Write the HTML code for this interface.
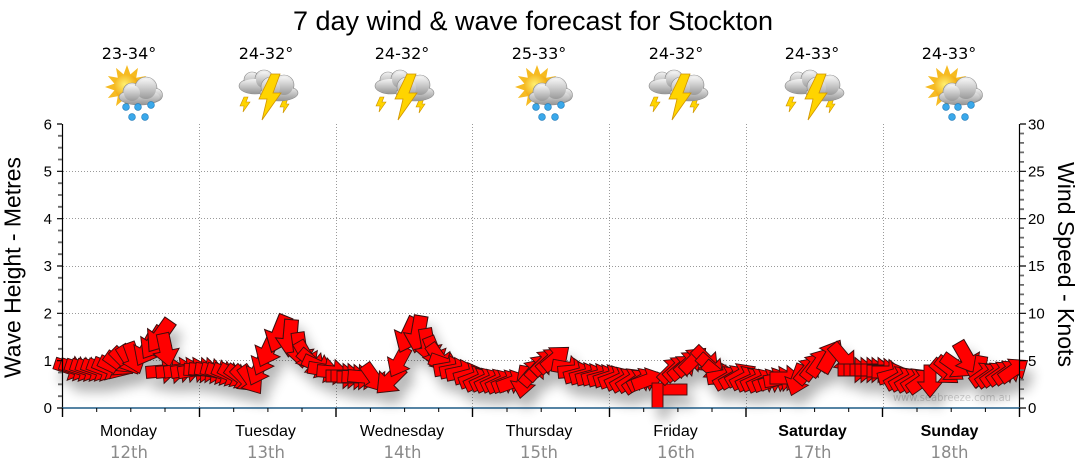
<!DOCTYPE html>
<html><head><meta charset="utf-8"><style>
html,body{margin:0;padding:0;background:#fff;}
svg{display:block;}
</style></head><body>
<svg width="1080" height="475" viewBox="0 0 1080 475" xmlns="http://www.w3.org/2000/svg">
<defs>
<path id="a" d="M-16,-6 L1,-6 L1,-12.5 L16.5,0 L1,12.5 L1,6 L-16,6 Z" fill="#ff0000" stroke="#3a0c0c" stroke-width="0.9" stroke-linejoin="miter"/>
<filter id="sh" filterUnits="userSpaceOnUse" x="0" y="260" width="1080" height="215">
<feGaussianBlur in="SourceAlpha" stdDeviation="6"/>
<feOffset dx="6" dy="11" result="o"/>
<feComponentTransfer><feFuncA type="linear" slope="0.3"/></feComponentTransfer>
<feMerge><feMergeNode/><feMergeNode in="SourceGraphic"/></feMerge>
</filter>
<radialGradient id="sung" cx="40%" cy="40%" r="60%"><stop offset="0" stop-color="#fff070"/><stop offset="1" stop-color="#f0a000"/></radialGradient>
<linearGradient id="cg" x1="0" y1="0" x2="0" y2="1"><stop offset="0" stop-color="#f4f4f4"/><stop offset="1" stop-color="#9a9a9a"/></linearGradient>
<g id="sunrain">
<polygon points="18,87 8.6,90.4 15.1,98 5.2,96.2 7,106.1 -0.6,99.6 -4,109 -7.4,99.6 -15,106.1 -13.2,96.2 -23.1,98 -16.6,90.4 -26,87 -16.6,83.6 -23.1,76 -13.2,77.8 -15,67.9 -7.4,74.4 -4,65 -0.6,74.4 7,67.9 5.2,77.8 15.1,76 8.6,83.6" fill="#f6bb22"/>
<circle cx="-4" cy="87" r="12.5" fill="url(#sung)"/>
<g fill="url(#cg)" stroke="#8a8a8a" stroke-width="0.6">
<ellipse cx="9" cy="97" rx="21" ry="8"/>
<circle cx="1" cy="92" r="9"/><circle cx="15" cy="88" r="11"/><circle cx="25" cy="95" r="6.5"/>
</g>
<g fill="url(#cg)"><ellipse cx="9" cy="97" rx="20" ry="7"/><circle cx="15" cy="89" r="10"/><circle cx="1" cy="93" r="8"/></g>
<g fill="#3aa8ea" stroke="#1b78b8" stroke-width="0.6">
<circle cx="-5" cy="107" r="3.4"/><circle cx="7" cy="107" r="3.4"/><circle cx="20" cy="105" r="3.4"/><circle cx="1" cy="117" r="3.4"/><circle cx="14" cy="117" r="3.4"/>
</g>
</g>
<g id="thunder">
<polygon points="-24,97 -28,106 -24,106 -25,112 -18,102 -22,102 -20,97" fill="#ffd400" stroke="#c99000" stroke-width="0.6"/>
<polygon points="16,98 12,107 16,107 15,113 21,104 18,104 20,98" fill="#ffd400" stroke="#c99000" stroke-width="0.6"/>
<g fill="url(#cg)" stroke="#8a8a8a" stroke-width="0.6">
<ellipse cx="-13" cy="86" rx="16" ry="8"/><circle cx="-16" cy="80" r="8"/><circle cx="-4" cy="79" r="9"/>
</g>
<g fill="url(#cg)"><ellipse cx="-13" cy="86" rx="15" ry="7"/><circle cx="-4" cy="80" r="8"/></g>
<g fill="url(#cg)" stroke="#8a8a8a" stroke-width="0.6">
<ellipse cx="11" cy="93" rx="19" ry="8"/><circle cx="3" cy="87" r="10"/><circle cx="16" cy="85" r="10"/>
</g>
<g fill="url(#cg)"><ellipse cx="11" cy="93" rx="18" ry="7"/><circle cx="16" cy="86" r="9"/><circle cx="3" cy="88" r="9"/></g>
<polygon points="3,74 -9,99 -1,99 -6,120 13,93 5,93 12,74" fill="#ffd400" stroke="#d09400" stroke-width="0.8"/>
</g>
</defs>

<!-- title -->
<text x="533" y="30" font-family="'Liberation Sans', Arial, sans-serif" font-size="27" text-anchor="middle" textLength="480" lengthAdjust="spacingAndGlyphs" fill="#000">7 day wind &amp; wave forecast for Stockton</text>

<!-- temps -->
<g font-family="'DejaVu Sans', Verdana, sans-serif" font-size="16" text-anchor="middle" fill="#000">
<text x="129" y="59">23-34°</text>
<text x="266" y="59">24-32°</text>
<text x="402" y="59">24-32°</text>
<text x="539" y="59">25-33°</text>
<text x="676" y="59">24-32°</text>
<text x="812" y="59">24-33°</text>
<text x="949" y="59">24-33°</text>
</g>

<!-- icons -->
<use href="#sunrain" transform="translate(131,0)"/>
<use href="#thunder" transform="translate(268,0)"/>
<use href="#thunder" transform="translate(404,0)"/>
<use href="#sunrain" transform="translate(541,0)"/>
<use href="#thunder" transform="translate(678,0)"/>
<use href="#thunder" transform="translate(814,0)"/>
<use href="#sunrain" transform="translate(951,0)"/>

<!-- grid -->
<g stroke="#9a9a9a" stroke-width="1" stroke-dasharray="1,2" fill="none">
<path d="M63,360.5H1019M63,313.5H1019M63,266.5H1019M63,218.5H1019M63,171.5H1019"/>
<path d="M199.5,124V408M336.5,124V408M472.5,124V408M609.5,124V408M746.5,124V408M883.5,124V408"/>
</g>

<!-- watermark -->
<text x="893" y="401" font-family="'DejaVu Sans', Verdana, sans-serif" font-size="11" fill="#d2d2d2" textLength="118" lengthAdjust="spacingAndGlyphs">www.seabreeze.com.au</text>

<!-- arrows -->
<g filter="url(#sh)">
<use href="#a" transform="translate(70,368) rotate(18)"/>
<use href="#a" transform="translate(75.5,368.5) rotate(18)"/>
<use href="#a" transform="translate(81,369) rotate(18)"/>
<use href="#a" transform="translate(86.5,369) rotate(18)"/>
<use href="#a" transform="translate(92,369) rotate(18)"/>
<use href="#a" transform="translate(97.5,369) rotate(19)"/>
<use href="#a" transform="translate(103,369) rotate(20)"/>
<use href="#a" transform="translate(108.5,368) rotate(22)"/>
<use href="#a" transform="translate(114,367) rotate(25)"/>
<use href="#a" transform="translate(119,364) rotate(35)"/>
<use href="#a" transform="translate(124,361) rotate(45)"/>
<use href="#a" transform="translate(129,360) rotate(58)"/>
<use href="#a" transform="translate(134,358) rotate(70)"/>
<use href="#a" transform="translate(162,371) rotate(-5)"/>
<use href="#a" transform="translate(172,371) rotate(-5)"/>
<use href="#a" transform="translate(146,350) rotate(118) scale(1.05)"/>
<use href="#a" transform="translate(153,343) rotate(122) scale(1.1)"/>
<use href="#a" transform="translate(160,336) rotate(125) scale(1.15)"/>
<use href="#a" transform="translate(166,350) rotate(78) scale(1.05)"/>
<use href="#a" transform="translate(180,370) rotate(-8)"/>
<use href="#a" transform="translate(187,370) rotate(-9)"/>
<use href="#a" transform="translate(194,370) rotate(-10)"/>

<use href="#a" transform="translate(200,370) rotate(3)"/>
<use href="#a" transform="translate(205,370) rotate(5)"/>
<use href="#a" transform="translate(211,371) rotate(10)"/>
<use href="#a" transform="translate(217,372) rotate(15)"/>
<use href="#a" transform="translate(222,373) rotate(18)"/>
<use href="#a" transform="translate(228,374) rotate(22)"/>
<use href="#a" transform="translate(234,375) rotate(28)"/>
<use href="#a" transform="translate(240,377) rotate(35)"/>
<use href="#a" transform="translate(245,379) rotate(45)"/>
<use href="#a" transform="translate(251,380) rotate(55)"/>
<use href="#a" transform="translate(258,370) rotate(115)"/>
<use href="#a" transform="translate(263,360) rotate(115)"/>
<use href="#a" transform="translate(268,350) rotate(115) scale(1.1)"/>
<use href="#a" transform="translate(279,334) rotate(112) scale(1.2)"/>
<use href="#a" transform="translate(290,338) rotate(95) scale(1.15)"/>
<use href="#a" transform="translate(300,350) rotate(82) scale(1.1)"/>
<use href="#a" transform="translate(306,356) rotate(60)"/>
<use href="#a" transform="translate(312,362) rotate(40)"/>
<use href="#a" transform="translate(318,366) rotate(25)"/>
<use href="#a" transform="translate(324,370) rotate(10)"/>
<use href="#a" transform="translate(333,372) rotate(5)"/>

<use href="#a" transform="translate(342,376) rotate(0)"/>
<use href="#a" transform="translate(347,376) rotate(0)"/>
<use href="#a" transform="translate(353,377) rotate(0)"/>
<use href="#a" transform="translate(358,377) rotate(2)"/>
<use href="#a" transform="translate(364,377) rotate(5)"/>
<use href="#a" transform="translate(374,378) rotate(55)"/>
<use href="#a" transform="translate(390,380) rotate(135) scale(1.1)"/>
<use href="#a" transform="translate(399,362) rotate(118)"/>
<use href="#a" transform="translate(408,335) rotate(115) scale(1.15)"/>
<use href="#a" transform="translate(418,334) rotate(100) scale(1.15)"/>
<use href="#a" transform="translate(428,346) rotate(80) scale(1.1)"/>
<use href="#a" transform="translate(434,352) rotate(68)"/>
<use href="#a" transform="translate(439,358) rotate(55)"/>
<use href="#a" transform="translate(445,364) rotate(20)"/>
<use href="#a" transform="translate(450,368) rotate(-10)"/>
<use href="#a" transform="translate(456,370) rotate(-11)"/>
<use href="#a" transform="translate(462,372) rotate(-12)"/>
<use href="#a" transform="translate(470,375) rotate(-15)"/>

<use href="#a" transform="translate(475,378) rotate(-20)"/>
<use href="#a" transform="translate(480,380) rotate(-25)"/>
<use href="#a" transform="translate(486,380) rotate(-25)"/>
<use href="#a" transform="translate(491,381) rotate(-25)"/>
<use href="#a" transform="translate(497,381) rotate(-25)"/>
<use href="#a" transform="translate(502,382) rotate(-25)"/>
<use href="#a" transform="translate(508,382) rotate(-22)"/>
<use href="#a" transform="translate(513,382) rotate(-20)"/>
<use href="#a" transform="translate(523,382) rotate(100)"/>
<use href="#a" transform="translate(533,372) rotate(-50)"/>
<use href="#a" transform="translate(539,367) rotate(-48)"/>
<use href="#a" transform="translate(545,362) rotate(-45)"/>
<use href="#a" transform="translate(551,360) rotate(-42)"/>
<use href="#a" transform="translate(556,358) rotate(-40)"/>
<use href="#a" transform="translate(568,368) rotate(10)"/>
<use href="#a" transform="translate(574,371) rotate(-5)"/>
<use href="#a" transform="translate(580,374) rotate(-15)"/>
<use href="#a" transform="translate(586,375) rotate(-15)"/>
<use href="#a" transform="translate(592,376) rotate(-15)"/>
<use href="#a" transform="translate(598,376) rotate(-15)"/>
<use href="#a" transform="translate(604,377) rotate(-15)"/>

<use href="#a" transform="translate(610,377) rotate(-18)"/>
<use href="#a" transform="translate(615,378) rotate(-20)"/>
<use href="#a" transform="translate(621,379) rotate(-25)"/>
<use href="#a" transform="translate(626,380) rotate(-30)"/>
<use href="#a" transform="translate(632,380) rotate(-32)"/>
<use href="#a" transform="translate(638,381) rotate(-35)"/>
<use href="#a" transform="translate(643,380) rotate(-28)"/>
<use href="#a" transform="translate(648,380) rotate(-20)"/>
<rect x="653" y="384" width="34" height="11" fill="#ff0000" stroke="#3a0c0c" stroke-width="0.9"/>
<rect x="652" y="383" width="11" height="25" fill="#ff0000" stroke="#3a0c0c" stroke-width="0.9"/>
<use href="#a" transform="translate(672,370) rotate(-45)"/>
<use href="#a" transform="translate(678,368) rotate(-42)"/>
<use href="#a" transform="translate(683,367) rotate(-40)"/>
<use href="#a" transform="translate(689,363) rotate(-42)"/>
<use href="#a" transform="translate(694,360) rotate(-45)"/>
<use href="#a" transform="translate(706,360) rotate(45)"/>
<use href="#a" transform="translate(711,367) rotate(42)"/>
<use href="#a" transform="translate(717,374) rotate(40)"/>
<use href="#a" transform="translate(723,376) rotate(-10)"/>
<use href="#a" transform="translate(729,378) rotate(-30)"/>
<use href="#a" transform="translate(735,377) rotate(-30)"/>
<use href="#a" transform="translate(741,375) rotate(-30)"/>

<use href="#a" transform="translate(746,378) rotate(-28)"/>
<use href="#a" transform="translate(752,380) rotate(-25)"/>
<use href="#a" transform="translate(757,380) rotate(-25)"/>
<use href="#a" transform="translate(763,381) rotate(-25)"/>
<use href="#a" transform="translate(769,381) rotate(-22)"/>
<use href="#a" transform="translate(775,380) rotate(-20)"/>
<use href="#a" transform="translate(780,379) rotate(-10)"/>
<use href="#a" transform="translate(786,378) rotate(0)"/>
<use href="#a" transform="translate(797,380) rotate(110)"/>
<use href="#a" transform="translate(808,370) rotate(-50)"/>
<use href="#a" transform="translate(814,366) rotate(-52)"/>
<use href="#a" transform="translate(820,362) rotate(-55)"/>
<use href="#a" transform="translate(831,356) rotate(-60) scale(1.1)"/>
<use href="#a" transform="translate(843,358) rotate(50) scale(1.05)"/>
<use href="#a" transform="translate(854,370) rotate(0)"/>
<use href="#a" transform="translate(860,370) rotate(0)"/>
<use href="#a" transform="translate(866,370) rotate(0)"/>
<use href="#a" transform="translate(871,370) rotate(0)"/>
<use href="#a" transform="translate(877,370) rotate(0)"/>

<use href="#a" transform="translate(883,371) rotate(0)"/>
<use href="#a" transform="translate(888,372) rotate(0)"/>
<use href="#a" transform="translate(894,375) rotate(-15)"/>
<use href="#a" transform="translate(900,378) rotate(-30)"/>
<use href="#a" transform="translate(905,379) rotate(-30)"/>
<use href="#a" transform="translate(911,380) rotate(-30)"/>
<use href="#a" transform="translate(917,380) rotate(-32)"/>
<use href="#a" transform="translate(922,381) rotate(-35)"/>
<use href="#a" transform="translate(930,381) rotate(90)"/>
<use href="#a" transform="translate(945,372) rotate(40)"/>
<use href="#a" transform="translate(950,369) rotate(38)"/>
<use href="#a" transform="translate(956,366) rotate(35)"/>
<use href="#a" transform="translate(967,358) rotate(60) scale(1.1)"/>
<use href="#a" transform="translate(979,372) rotate(100)"/>
<use href="#a" transform="translate(985,374) rotate(-35)"/>
<use href="#a" transform="translate(991,375) rotate(-35)"/>
<use href="#a" transform="translate(996,374) rotate(-35)"/>
<use href="#a" transform="translate(1002,373) rotate(-35)"/>
<use href="#a" transform="translate(1008,372) rotate(-35)"/>
<use href="#a" transform="translate(1014,370) rotate(-35)"/>
</g>

<!-- axes -->
<path d="M62.5,124V408" stroke="#000" stroke-width="1.2"/>
<path d="M1019.5,124V408" stroke="#000" stroke-width="1.2"/>
<path d="M62,408H1020" stroke="#1f5b86" stroke-width="1.6"/>

<!-- left ticks -->
<path d="M57,408H62M57,360.7H62M57,313.3H62M57,266H62M57,218.7H62M57,171.3H62M57,124H62" stroke="#000" stroke-width="1.2"/>
<path d="M58,396.2H62M58,384.3H62M58,372.5H62M58,348.8H62M58,337H62M58,325.2H62M58,301.5H62M58,289.7H62M58,277.8H62M58,254.2H62M58,242.3H62M58,230.5H62M58,206.8H62M58,195H62M58,183.2H62M58,159.5H62M58,147.7H62M58,135.8H62" stroke="#6a6a6a" stroke-width="1.8"/>

<!-- right ticks -->
<path d="M1020,408H1026M1020,360.7H1026M1020,313.3H1026M1020,266H1026M1020,218.7H1026M1020,171.3H1026M1020,124H1026" stroke="#000" stroke-width="1.2"/>
<path d="M1020,398.5H1024M1020,389.1H1024M1020,379.6H1024M1020,370.1H1024M1020,351.2H1024M1020,341.7H1024M1020,332.3H1024M1020,322.8H1024M1020,303.9H1024M1020,294.4H1024M1020,284.9H1024M1020,275.5H1024M1020,256.5H1024M1020,247.1H1024M1020,237.6H1024M1020,228.1H1024M1020,209.2H1024M1020,199.7H1024M1020,190.3H1024M1020,180.8H1024M1020,161.9H1024M1020,152.4H1024M1020,142.9H1024M1020,133.5H1024" stroke="#6a6a6a" stroke-width="1.8"/>

<!-- bottom ticks -->
<path d="M62.5,408V417M199.5,408V417M336,408V417M472.5,408V417M609.5,408V417M746,408V417M882.5,408V417M1019.5,408V417" stroke="#000" stroke-width="1.4"/>
<path d="M96.7,408V412M130.8,408V412M165,408V412M233.7,408V412M267.9,408V412M302,408V412M370.4,408V412M404.6,408V412M438.7,408V412M507,408V412M541.2,408V412M575.4,408V412M643.7,408V412M677.9,408V412M712,408V412M780.4,408V412M814.6,408V412M848.7,408V412M917,408V412M951.2,408V412M985.4,408V412" stroke="#000" stroke-width="1"/>

<!-- tick labels -->
<g font-family="'Liberation Sans', Arial, sans-serif" font-size="15" fill="#000">
<g text-anchor="end">
<text x="52" y="413">0</text><text x="52" y="366">1</text><text x="52" y="318.5">2</text><text x="52" y="271">3</text><text x="52" y="224">4</text><text x="52" y="176.5">5</text><text x="52" y="129.5">6</text>
</g>
<text x="1028" y="413">0</text><text x="1028" y="366">5</text><text x="1028" y="318.5">10</text><text x="1028" y="271">15</text><text x="1028" y="224">20</text><text x="1028" y="176.5">25</text><text x="1028" y="129.5">30</text>
</g>

<!-- axis titles -->
<text transform="translate(20.5,267.5) rotate(-90)" text-anchor="middle" font-family="'Liberation Sans', Arial, sans-serif" font-size="23" textLength="221" lengthAdjust="spacingAndGlyphs" fill="#000">Wave Height - Metres</text>
<text transform="translate(1058,264.5) rotate(90)" text-anchor="middle" font-family="'Liberation Sans', Arial, sans-serif" font-size="23" textLength="205" lengthAdjust="spacingAndGlyphs" fill="#000">Wind Speed - Knots</text>

<!-- day labels -->
<g font-family="'Liberation Sans', Arial, sans-serif" font-size="16" text-anchor="middle" fill="#000">
<text x="128.5" y="436">Monday</text>
<text x="265.5" y="436">Tuesday</text>
<text x="402" y="436">Wednesday</text>
<text x="539" y="436">Thursday</text>
<text x="675.5" y="436">Friday</text>
<text x="812.5" y="436" font-weight="bold">Saturday</text>
<text x="949.5" y="436" font-weight="bold">Sunday</text>
</g>
<g font-family="'DejaVu Sans', Verdana, sans-serif" font-size="16.5" text-anchor="middle" fill="#8a8a8a">
<text x="129" y="458">12th</text>
<text x="266" y="458">13th</text>
<text x="402.5" y="458">14th</text>
<text x="539" y="458">15th</text>
<text x="676" y="458">16th</text>
<text x="812.5" y="458">17th</text>
<text x="949.5" y="458">18th</text>
</g>
</svg>
</body></html>
